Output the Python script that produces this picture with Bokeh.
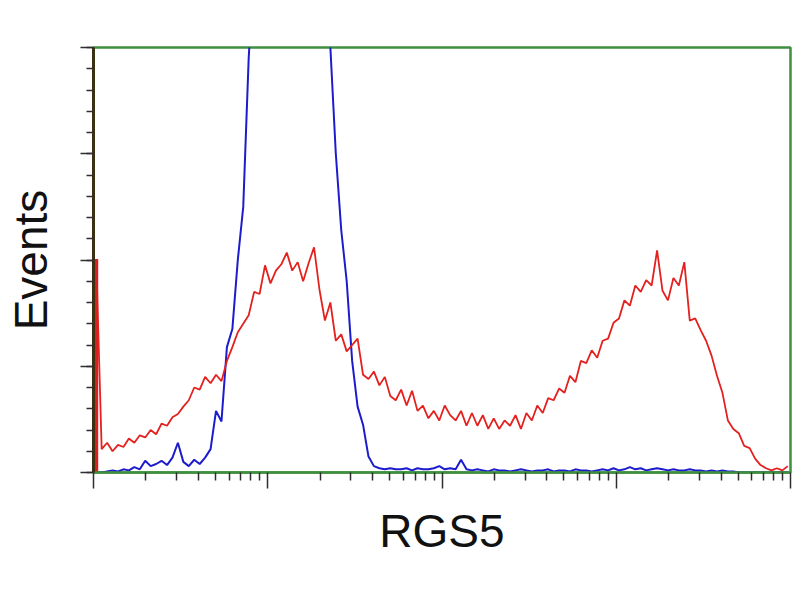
import numpy as np
from bokeh.plotting import figure
from bokeh.models import FixedTicker
from bokeh.embed import file_html
from bokeh.resources import INLINE

# Histogram channels: 128 log-spaced bins over 4 decades (1 .. 10^4)
n_bins = 128
x_decades = [1, 10, 100, 1000, 10000]
y_major = [0, 100, 200, 300, 400]

red_counts = [
    201, 22, 28, 20, 26, 24, 32, 28, 35, 33,
    40, 36, 46, 44, 52, 55, 62, 68, 80, 78,
    90, 84, 92, 86, 105, 118, 132, 140, 148, 170,
    168, 195, 178, 190, 196, 207, 190, 198, 180, 197,
    212, 172, 143, 160, 124, 130, 114, 120, 126, 92,
    88, 95, 82, 90, 72, 68, 78, 63, 77, 58,
    63, 51, 58, 49, 63, 54, 49, 58, 44, 56,
    44, 54, 41, 51, 41, 49, 44, 54, 41, 56,
    49, 63, 56, 70, 68, 79, 75, 91, 85, 105,
    103, 115, 108, 124, 126, 141, 145, 162, 157, 176,
    170, 181, 176, 209, 171, 162, 183, 176, 198, 143,
    145, 134, 124, 110, 91, 75, 49, 41, 37, 25,
    23, 13, 7, 4, 2, 4, 2, 6,
]

blue_counts = [
    0, 0, 1, 2, 1, 3, 2, 5, 3, 11,
    6, 8, 11, 7, 14, 28, 10, 6, 12, 8,
    14, 22, 58, 48, 118, 135, 200, 250, 390, 480,
    560, 600, 640, 660, 680, 690, 700, 690, 670, 640,
    600, 560, 500, 400, 300, 228, 180, 105, 62, 45,
    15, 6, 4, 3, 4, 3, 3, 4, 2, 4,
    3, 3, 4, 6, 3, 4, 3, 12, 3, 2,
    3, 2, 1, 3, 2, 2, 1, 2, 3, 2,
    1, 2, 2, 3, 1, 2, 2, 1, 3, 2,
    2, 1, 2, 3, 2, 4, 2, 3, 5, 3,
    4, 2, 3, 4, 3, 2, 3, 2, 2, 3,
    2, 2, 1, 2, 1, 2, 1, 1, 0, 0,
    0, 0, 0, 0, 0, 0, 0, 0,
]

# bin centres on the log axis
channel = 10 ** ((np.arange(n_bins) + 0.5) * 4.0 / n_bins)

p = figure(
    width=792, height=584,
    x_axis_type="log", x_range=(1, 10000), y_range=(0, 400),
    output_backend="svg", toolbar_location=None,
    min_border_left=93, min_border_right=2,
    min_border_top=47, min_border_bottom=112,
    background_fill_color="white", border_fill_color="white",
)

p.xgrid.grid_line_color = None
p.ygrid.grid_line_color = None
p.outline_line_color = "#3f8f3f"
p.outline_line_width = 2.5

minor_x = [k * d for d in x_decades[:-1] for k in range(2, 10)]
p.xaxis.ticker = FixedTicker(ticks=x_decades, minor_ticks=minor_x)
p.yaxis.ticker = FixedTicker(ticks=y_major, minor_ticks=list(range(0, 401, 20)))

for ax in (p.xaxis[0], p.yaxis[0]):
    ax.major_label_overrides = {t: "" for t in ax.ticker.ticks}
    ax.major_label_standoff = 0
    ax.major_tick_in = 0
    ax.minor_tick_in = 0
    ax.major_tick_line_color = "#2e2e2e"
    ax.minor_tick_line_color = "#2e2e2e"
    ax.major_tick_line_width = 1.5
    ax.minor_tick_line_width = 1.5
    ax.axis_label_text_font = "Liberation Sans"
    ax.axis_label_text_font_style = "normal"
    ax.axis_label_text_color = "#111111"

p.xaxis.major_tick_out = 16
p.xaxis.minor_tick_out = 8
p.yaxis.major_tick_out = 13
p.yaxis.minor_tick_out = 7

p.xaxis.axis_line_color = "#3f8f3f"
p.xaxis.axis_line_width = 2.5
p.yaxis.axis_line_color = "#3b2f14"
p.yaxis.axis_line_width = 3

p.xaxis.axis_label = "RGS5"
p.xaxis.axis_label_text_font_size = "46px"
p.xaxis.axis_label_standoff = 16
p.yaxis.axis_label = "Events"
p.yaxis.axis_label_text_font_size = "46px"
p.yaxis.axis_label_standoff = 24

p.line(channel, blue_counts, line_color="#1c1ccc", line_width=2)
p.line(channel, red_counts, line_color="#e3211f", line_width=1.8)
p.segment(x0=channel[:1], y0=[0], x1=channel[:1], y1=red_counts[:1],
          line_color="#d92020", line_width=4)

open("out.html", "w").write(file_html(p, INLINE))
